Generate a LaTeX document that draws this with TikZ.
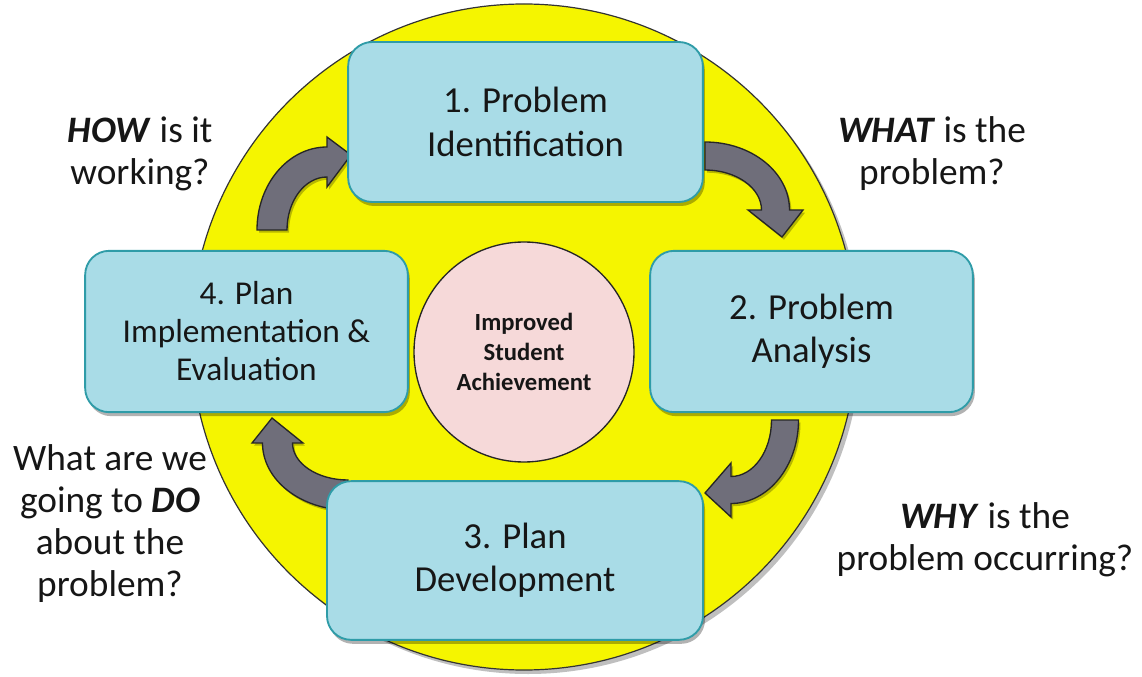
\documentclass[tikz,border=0pt]{standalone}
\usepackage{fontspec}
\setmainfont{Carlito}
\usetikzlibrary{shadows}
\definecolor{cyel}{HTML}{F5F500}
\definecolor{cbox}{HTML}{A9DCE7}
\definecolor{cboxline}{HTML}{2F9CA8}
\definecolor{cpink}{HTML}{F6D9D9}
\definecolor{carrow}{HTML}{6F6E7A}
\definecolor{ctext}{HTML}{161616}
\newcommand\cyclearrow[8]{%
  % #1 centre, #2 rx, #3 ry, #4 start angle, #5 end angle, #6 half shaft, #7 half head, #8 tip
  \begin{scope}[shift={(#1)}]
  \draw[arrowshape]
    ({#4}:{#2+#6} and {#3+#6}) arc[start angle=#4, end angle=#5, x radius={#2+#6}, y radius={#3+#6}]
    -- ({#5}:{#2+#7} and {#3+#7}) -- (#8) -- ({#5}:{#2-#7} and {#3-#7})
    -- ({#5}:{#2-#6} and {#3-#6}) arc[start angle=#5, end angle=#4, x radius={#2-#6}, y radius={#3-#6}]
    -- cycle;
  \end{scope}}
\begin{document}
\begin{tikzpicture}[x=0.75pt,y=-0.75pt,
  stepbox/.style={draw=cboxline, line width=1.4pt, fill=cbox, rounded corners=18pt,
    text=ctext, align=center, inner sep=0pt,
    font=\fontsize{27.5}{32.5}\selectfont,
    drop shadow={shadow xshift=1.5pt, shadow yshift=-3pt, opacity=0.3, fill=black}},
  question/.style={text=ctext, align=center, inner sep=0pt,
    font=\fontsize{28}{31.5}\selectfont},
  arrowshape/.style={draw=black!85, line width=1pt, fill=carrow, line join=miter,
    drop shadow={shadow xshift=1.5pt, shadow yshift=-2pt, opacity=0.25, fill=black}},
]
\useasboundingbox (0,0) rectangle (1142,677);

% background ring
\node[circle, draw=black!80, line width=0.9pt, fill=cyel, minimum size=499.5pt, inner sep=0pt,
  drop shadow={shadow xshift=3pt, shadow yshift=-3pt, opacity=0.25, fill=black}] (ring) at (524,337) {};

% arrow tips and centres
\coordinate (tipA) at (351,155);
\coordinate (tipB) at (782,237);
\coordinate (tipC) at (705,493);
\coordinate (tipD) at (272,418);
\coordinate (cA) at (327,230);
\coordinate (cB) at (705,210);
\coordinate (cC) at (731,420);
\coordinate (cD) at (348,443);

\cyclearrow{cA}{55}{68}{180}{270}{15}{25}{tipA}
\cyclearrow{cB}{70.5}{54}{270}{360}{14}{27.5}{tipB}
\cyclearrow{cC}{54}{70}{0}{90}{13.5}{27}{tipC}
\cyclearrow{cD}{70.5}{52}{90}{180}{15}{25.5}{tipD}

% boxes
\node[stepbox, minimum width=266pt, minimum height=120pt] (s1) at (525.5,122) {1. Problem\\Identification};
\node[stepbox, minimum width=242pt, minimum height=121pt] (s2) at (811.5,331.5) {2. Problem\\Analysis};
\node[stepbox, minimum width=282pt, minimum height=119pt] (s3) at (515,560.5) {3. Plan\\Development};
\node[stepbox, minimum width=242pt, minimum height=121pt, font=\fontsize{25}{28.5}\selectfont] (s4) at (246.5,331.5) {4. Plan\\Implementation \&\\Evaluation};

% centre
\node[circle, draw=black!85, line width=1pt, fill=cpink, minimum size=165pt, inner sep=0pt,
  text=ctext, align=center, font=\bfseries\fontsize{18.5}{22.5}\selectfont] (goal) at (524,352)
  {Improved\\Student\\Achievement};

% questions
\node[question] (qhow) at (140,154) {\textbf{\textit{HOW}} is it\\working?};
\node[question] (qwhat) at (932,154) {\textbf{\textit{WHAT}} is the\\problem?};
\node[question] (qwhy) at (985,540) {\textbf{\textit{WHY}} is the\\problem occurring?};
\node[question] (qdo) at (110,524) {What are we\\going to \textbf{\textit{DO}}\\about the\\problem?};
\end{tikzpicture}
\end{document}
